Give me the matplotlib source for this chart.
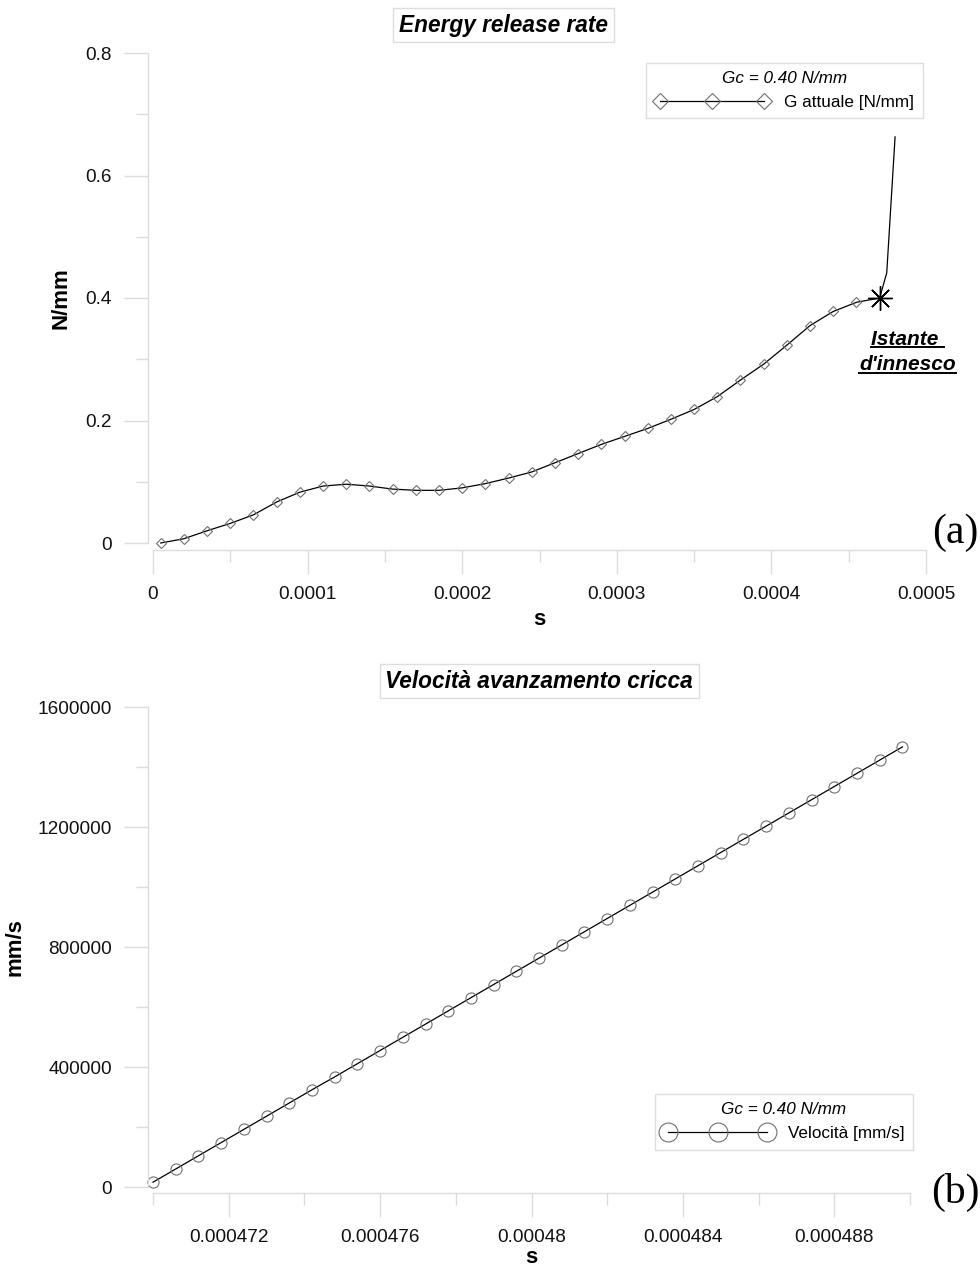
import numpy as np
import matplotlib
matplotlib.use("Agg")
import matplotlib.pyplot as plt
from matplotlib.ticker import FixedLocator, FuncFormatter
from matplotlib.lines import Line2D

plt.rcParams['font.family'] = ['Liberation Sans', 'DejaVu Sans']

# --- (a) energy release rate G(t) ---
t_g = [0.000005, 0.00002, 0.000035, 0.00005, 0.000065, 0.00008, 0.000095, 0.00011,
       0.000125, 0.00014, 0.000155, 0.00017, 0.000185, 0.0002, 0.000215, 0.00023,
       0.000245, 0.00026, 0.000275, 0.00029, 0.000305, 0.00032, 0.000335, 0.00035,
       0.000365, 0.00038, 0.000395, 0.00041, 0.000425, 0.00044, 0.000455, 0.00047]
g_val = [0.0, 0.007, 0.020, 0.032, 0.046, 0.067, 0.083, 0.093,
         0.096, 0.093, 0.088, 0.086, 0.086, 0.090, 0.097, 0.106,
         0.116, 0.131, 0.146, 0.161, 0.174, 0.187, 0.202, 0.218,
         0.239, 0.266, 0.292, 0.323, 0.355, 0.378, 0.393, 0.400]
# leader line from the initiation point
callout_t = [0.00047, 0.0004746, 0.00048]
callout_g = [0.400, 0.441, 0.663]

g_xticks = [0, 0.0001, 0.0002, 0.0003, 0.0004, 0.0005]
g_xminor = [0.00005, 0.00015, 0.00025, 0.00035, 0.00045]
g_yticks = [0, 0.2, 0.4, 0.6, 0.8]
g_yminor = [0.1, 0.3, 0.5, 0.7]

# --- (b) crack speed ---
t_v = [0.0004700, 0.0004706, 0.0004712, 0.0004718, 0.0004724, 0.0004730, 0.0004736,
       0.0004742, 0.0004748, 0.0004754, 0.0004760, 0.0004766, 0.0004772, 0.0004778,
       0.0004784, 0.0004790, 0.0004796, 0.0004802, 0.0004808, 0.0004814, 0.0004820,
       0.0004826, 0.0004832, 0.0004838, 0.0004844, 0.0004850, 0.0004856, 0.0004862,
       0.0004868, 0.0004874, 0.0004880, 0.0004886, 0.0004892, 0.0004898]
v_val = [16000, 60000, 104000, 148000, 192000, 236000, 280000,
         324000, 367000, 411000, 455000, 499000, 543000, 587000,
         631000, 675000, 719000, 763000, 807000, 851000, 895000,
         939000, 983000, 1027000, 1071000, 1115000, 1159000, 1203000,
         1247000, 1291000, 1335000, 1379000, 1423000, 1467000]

v_xticks = [0.000472, 0.000476, 0.00048, 0.000484, 0.000488]
v_xminor = [0.00047, 0.000474, 0.000478, 0.000482, 0.000486, 0.00049]
v_yticks = [0, 400000, 800000, 1200000, 1600000]
v_yminor = [200000, 600000, 1000000, 1400000]

AXIS_GREY = '#dcdcdc'
MARKER_GREY = '#707070'
W, H = 980, 1269

fig = plt.figure(figsize=(W / 100, H / 100), dpi=100)


def px_axes(l, t, r, b):
    return fig.add_axes([l / W, 1 - b / H, (r - l) / W, (b - t) / H])


def style_axes(ax, bottom_offset):
    for side in ('top', 'right'):
        ax.spines[side].set_visible(False)
    ax.spines['left'].set_position(('outward', 3.6))
    ax.spines['bottom'].set_position(('outward', bottom_offset))
    for side in ('left', 'bottom'):
        ax.spines[side].set_color(AXIS_GREY)
        ax.spines[side].set_linewidth(1.0)
    ax.tick_params(which='major', length=17, width=1, color=AXIS_GREY,
                   labelsize=13.7, pad=9, labelcolor='#111111')
    ax.tick_params(which='minor', length=8.6, width=1, color=AXIS_GREY)
    ax.patch.set_visible(False)


def boxed_title(ax, x, y, text):
    ax.text(x, y, text, transform=ax.transAxes, ha='center', va='center',
            fontsize=16.3, fontweight='bold', fontstyle='italic',
            bbox=dict(boxstyle='square,pad=0.25', fc='white', ec='#dddddd', lw=1))


def add_legend(ax, handle, label, anchor, hlen):
    leg = ax.legend([handle], [label], title='Gc = 0.40 N/mm', loc='upper right',
                    bbox_to_anchor=anchor, borderaxespad=0, numpoints=3,
                    markerscale=1.7, handlelength=hlen, handletextpad=0.9,
                    fontsize=12.3, title_fontsize=12.3, fancybox=False,
                    edgecolor='#dddddd', framealpha=1, borderpad=0.5)
    leg.get_title().set_fontstyle('italic')
    leg.get_frame().set_linewidth(1)
    return leg


# ---------------- (a) ----------------
ax1 = px_axes(153, 53, 926, 543)
style_axes(ax1, 5)
ax1.set_xlim(0, 0.0005)
ax1.set_ylim(0, 0.8)
ax1.xaxis.set_major_locator(FixedLocator(g_xticks))
ax1.xaxis.set_minor_locator(FixedLocator(g_xminor))
ax1.yaxis.set_major_locator(FixedLocator(g_yticks))
ax1.yaxis.set_minor_locator(FixedLocator(g_yminor))
ax1.xaxis.set_major_formatter(FuncFormatter(lambda v, p: f'{v:g}'))
ax1.yaxis.set_major_formatter(FuncFormatter(lambda v, p: f'{v:g}'))

ax1.plot(t_g, g_val, color='black', lw=0.9, clip_on=False)
ax1.plot(t_g[:-1], g_val[:-1], ls='none', marker='D', ms=5, mfc='none',
         mec=MARKER_GREY, mew=0.8, clip_on=False)
ax1.plot(t_g[-1], g_val[-1], ls='none', marker=(8, 2, 0), ms=17.5, color='black',
         mew=1.0, clip_on=False)
ax1.plot(callout_t, callout_g, color='black', lw=0.9, clip_on=False)

ax1.set_xlabel('s', fontsize=16, fontweight='bold')
ax1.set_ylabel('N/mm', fontsize=16, fontweight='bold')
ax1.xaxis.set_label_coords(0.5, -0.135)
ax1.yaxis.set_label_coords(-0.106, 0.5)

boxed_title(ax1, 0.4534, 1.057, 'Energy release rate')
g_handle = Line2D([], [], color='black', lw=0.9, marker='D', ms=5, mfc='none',
                  mec=MARKER_GREY, mew=0.8)
add_legend(ax1, g_handle, 'G attuale [N/mm]', (0.996, 0.98), 6.7)

lbl_kw = dict(ha='center', va='baseline', fontsize=15, fontweight='bold',
              fontstyle='italic')
lbl1 = ax1.text(0.000488, 0.3233, 'Istante ', **lbl_kw)
lbl2 = ax1.text(0.000488, 0.2824, "d'innesco", **lbl_kw)

fig.text(978 / W, 1 - 543 / H, '(a)', ha='right', va='baseline', fontsize=30,
         family='Liberation Serif')

# ---------------- (b) ----------------
ax2 = px_axes(153, 707, 910, 1187)
style_axes(ax2, 4.3)
ax2.set_xlim(0.00047, 0.00049)
ax2.set_ylim(0, 1600000)
ax2.xaxis.set_major_locator(FixedLocator(v_xticks))
ax2.xaxis.set_minor_locator(FixedLocator(v_xminor))
ax2.yaxis.set_major_locator(FixedLocator(v_yticks))
ax2.yaxis.set_minor_locator(FixedLocator(v_yminor))
ax2.xaxis.set_major_formatter(FuncFormatter(lambda v, p: f'{v:g}'))
ax2.yaxis.set_major_formatter(FuncFormatter(lambda v, p: f'{v:.0f}'))

ax2.plot(t_v, v_val, color='black', lw=0.9, marker='o', ms=8, mfc='none',
         mec=MARKER_GREY, mew=0.8, clip_on=False)

ax2.set_xlabel('s', fontsize=16, fontweight='bold')
ax2.set_ylabel('mm/s', fontsize=16, fontweight='bold')
ax2.xaxis.set_label_coords(0.5, -0.124)
ax2.yaxis.set_label_coords(-0.169, 0.5)

boxed_title(ax2, 0.51, 1.054, 'Velocità avanzamento cricca')
v_handle = Line2D([], [], color='black', lw=0.9, marker='o', ms=8, mfc='none',
                  mec=MARKER_GREY, mew=0.8)
add_legend(ax2, v_handle, 'Velocità [mm/s]', (1.004, 0.194), 6.4)

fig.text(980 / W, 1 - 1203 / H, '(b)', ha='right', va='baseline', fontsize=30,
         family='Liberation Serif')

# underline the initiation label
fig.canvas.draw()
renderer = fig.canvas.get_renderer()
to_fig = fig.transFigure.inverted()
for txt in (lbl1, lbl2):
    bb = txt.get_window_extent(renderer)
    (x0, y0), (x1, _) = to_fig.transform([(bb.x0, bb.y0 + 1.5), (bb.x1, bb.y0 + 1.5)])
    fig.add_artist(Line2D([x0, x1], [y0, y0], color='black', lw=1.4,
                          transform=fig.transFigure))

fig.savefig('out.png', dpi=100)
